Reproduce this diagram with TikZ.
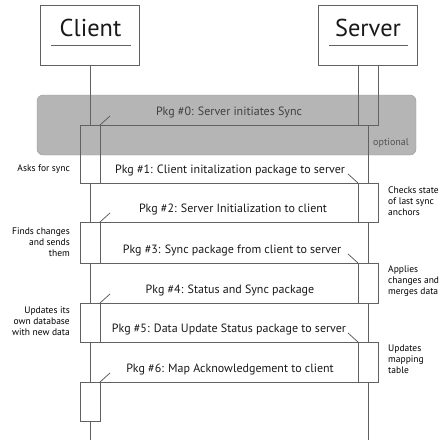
\documentclass[tikz,border=0pt]{standalone}
\usepackage{fontspec}
\setmainfont{PT Sans}
\newcommand{\notelines}[2]{\begin{tabular}[t]{@{}#1@{}}#2\end{tabular}}
\begin{document}
\begin{tikzpicture}[x=1pt,y=-1pt,
  ln/.style={draw=black!62, line width=0.8pt},
  actbox/.style={ln, rectangle, inner sep=0pt, outer sep=0pt, minimum width=20pt, anchor=north west},
  headbox/.style={ln, rectangle, inner sep=0pt, outer sep=0pt, minimum width=99pt, minimum height=60pt},
  headtxt/.style={font=\fontsize{24.4}{28}\selectfont, text=black!90, anchor=base, inner sep=0pt},
  msg/.style={font=\fontsize{12}{14}\selectfont, text=black!90, anchor=base, inner sep=0pt},
  lnote/.style={font=\fontsize{9.5}{11.2}\selectfont, text=black, inner sep=0pt, anchor=base east},
  rnote/.style={font=\fontsize{9.5}{11.2}\selectfont, text=black, inner sep=0pt, anchor=base west},
]
\useasboundingbox (0,0) rectangle (441,440);
% optional frame
\node[draw=black!40, fill=black!29, rounded corners=6pt, minimum width=379pt, minimum height=60pt, inner sep=0pt] (opt) at (226.5,125) {};
\node[msg, text=black!75] (m0) at (229,115.5) {Pkg \#0: Server initiates Sync};
\node[font=\fontsize{10}{11}\selectfont, text=black!68, anchor=base, inner sep=0pt] (optl) at (391,145) {optional};
% heads
\node[headbox] (client) at (90,35) {};
\node[headbox] (server) at (368,35) {};
\node[headtxt] (clientl) at (90.5,36.7) {Client};
\node[headtxt] (serverl) at (368,36.7) {Server};
\draw[ln] (51,45.5) -- (130.5,45.5);
\draw[ln] (329,45.5) -- (408,45.5);
% activation boxes
\node[actbox, minimum height=58pt] (ca0) at (80,125) {};
\node[actbox, minimum height=41pt] (ca1) at (80,222) {};
\node[actbox, minimum height=39pt] (ca2) at (80,303) {};
\node[actbox, minimum height=39pt] (ca3) at (80,382) {};
\node[actbox, minimum height=60pt] (sa0) at (358,65) {};
\node[actbox, minimum height=39pt] (sa1) at (358,183) {};
\node[actbox, minimum height=40pt] (sa2) at (358,263) {};
\node[actbox, minimum height=40pt] (sa3) at (358,342) {};
\coordinate (cend) at (90,440);
\coordinate (send) at (368,440);
% lifelines
\draw[ln] (client.south) -- (ca0.north);
\draw[ln] (ca0.south) -- (ca1.north);
\draw[ln] (ca1.south) -- (ca2.north);
\draw[ln] (ca2.south) -- (ca3.north);
\draw[ln] (ca3.south) -- (cend);
\draw[ln] (sa0.south) -- (sa1.north);
\draw[ln] (sa1.south) -- (sa2.north);
\draw[ln] (sa2.south) -- (sa3.north);
\draw[ln] (sa3.south) -- (send);
% messages
\draw[ln] (sa0.south east) -- (ca0.north west);
\draw[ln] (ca0.north east) -- ++(10,-9);
\draw[ln] (ca0.south west) -- (sa1.north east);
\draw[ln] (sa1.north west) -- ++(-10,-9);
\draw[ln] (sa1.south east) -- (ca1.north west);
\draw[ln] (ca1.north east) -- ++(10,-9);
\draw[ln] (ca1.south west) -- (sa2.north east);
\draw[ln] (sa2.north west) -- ++(-10,-9);
\draw[ln] (sa2.south east) -- (ca2.north west);
\draw[ln] (ca2.north east) -- ++(10,-9);
\draw[ln] (ca2.south west) -- (sa3.north east);
\draw[ln] (sa3.north west) -- ++(-10,-9);
\draw[ln] (sa3.south east) -- (ca3.north west);
\draw[ln] (ca3.north east) -- ++(10,-9);
% message labels
\node[msg] (m1) at (230,173.3) {Pkg \#1: Client initalization package to server};
\node[msg] (m2) at (233,212.7) {Pkg \#2: Server Initialization to client};
\node[msg] (m3) at (232,253) {Pkg \#3: Sync package from client to server};
\node[msg] (m4) at (230,293.5) {Pkg \#4: Status and Sync package};
\node[msg] (m5) at (229,332.5) {Pkg \#5: Data Update Status package to server};
\node[msg] (m6) at (230,372) {Pkg \#6: Map Acknowledgement to client};
% side notes
\node[lnote] (n1) at (70,171.5) {\notelines{r}{Asks for sync}};
\node[lnote] (n3) at (70,234) {\notelines{r}{Finds changes\\and sends\\them}};
\node[lnote] (n5) at (70,313) {\notelines{r}{Updates its\\own database\\with new data}};
\node[rnote] (n2) at (388,193.3) {\notelines{l}{Checks state\\of last sync\\anchors}};
\node[rnote] (n4) at (388,272) {\notelines{l}{Applies\\changes and\\merges data}};
\node[rnote] (n6) at (388,351) {\notelines{l}{Updates\\mapping\\table}};
\end{tikzpicture}
\end{document}
